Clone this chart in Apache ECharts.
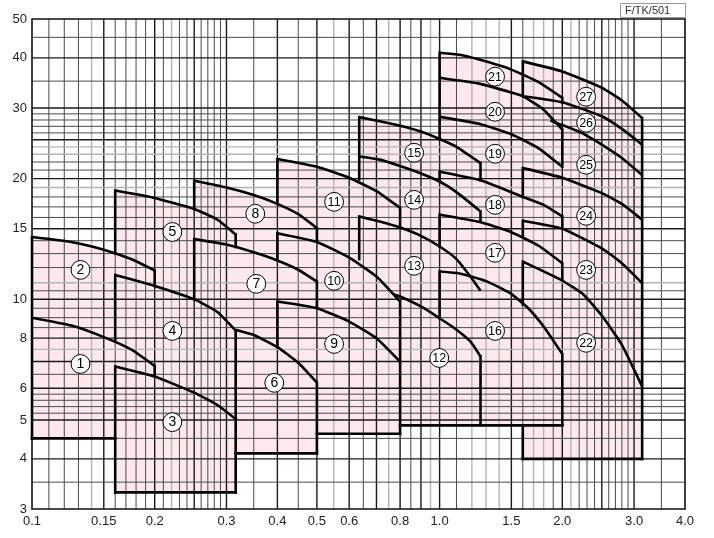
<!DOCTYPE html>
<html><head><meta charset="utf-8">
<script src="https://cdn.jsdelivr.net/npm/echarts@6/dist/echarts.min.js"></script>
<style>html,body{margin:0;padding:0;background:#fff}#c{width:714px;height:538px}</style>
</head><body><div id="c"></div>
<script>
// ---- axis tick labels ----
const xTickValues = [0.1,0.15,0.2,0.3,0.4,0.5,0.6,0.8,1.0,1.5,2.0,3.0,4.0];
const xTickText = ['0.1','0.15','0.2','0.3','0.4','0.5','0.6','0.8','1.0','1.5','2.0','3.0','4.0'];
const yTickValues = [3,4,5,6,8,10,15,20,30,40,50];
const yTickText = ['3','4','5','6','8','10','15','20','30','40','50'];

// ---- grid lines ----
const xGridMajor = [0.15,0.2,0.25,0.3,0.4,0.5,0.6,0.7,0.8,0.9,1.0,1.5,2.0,2.5,3.0];
const xGridMinor = [0.11,0.12,0.13,0.16,0.17,0.18,0.19,0.21,0.23,0.24,0.26,0.27,0.28,0.29,0.35,0.45,0.65,0.85,1.1,1.6,1.9,2.2,2.3,2.4,2.6,2.7,2.8,2.9,3.5];
const xGridLight = [0.14,0.22,0.55,0.75,0.95,1.2,1.3,1.4,1.7,1.8,2.1];
const yGridMajor = [40,30,25,20,15,10,8,7,6,5,4];
const yGridMinor = [45,35,29,28,27,26,22,21,18,17,16,14,13,12,10.5,9.5,9,8.5,6.5,5.8,5.6,5.4,5.2,4.5,3.5];
const yGridLight = [24,23,19,11,7.5];

// ---- top curves of each pump range (flow, head), visible parts ----
const r1 = [[0.1,9.0],[0.125,8.6],[0.15,8.05],[0.175,7.5],[0.2,6.82]];
const r2 = [[0.1,14.3],[0.125,13.9],[0.15,13.3],[0.175,12.6],[0.2,11.8]];
const r3 = [[0.16,6.8],[0.2,6.42],[0.25,5.85],[0.285,5.45],[0.318,5.0]];
const r4 = [[0.16,11.5],[0.2,10.8],[0.25,10.0],[0.285,9.3],[0.318,8.3]];
const r5 = [[0.16,18.67],[0.2,17.9],[0.25,16.8],[0.285,15.8],[0.316,14.5]];
const r6 = [[0.316,8.4],[0.35,8.15],[0.4,7.6],[0.45,6.95],[0.5,6.2]];
const r7 = [[0.25,14.13],[0.3,13.7],[0.35,13.1],[0.4,12.5],[0.45,11.85],[0.5,11.07]];
const r8 = [[0.25,19.75],[0.3,19.0],[0.35,18.2],[0.4,17.3],[0.45,16.3],[0.5,15.05]];
const r9 = [[0.4,9.87],[0.5,9.5],[0.6,8.8],[0.7,8.0],[0.8,6.99]];
const r10 = [[0.4,14.62],[0.5,13.9],[0.6,12.7],[0.7,11.4],[0.8,9.87]];
const r11 = [[0.4,22.37],[0.5,21.4],[0.6,20.1],[0.7,18.6],[0.8,16.9]];
const r12 = [[0.77,10.3],[0.8,10.16],[0.9,9.6],[1.0,8.97],[1.1,8.4],[1.19,7.85],[1.26,7.2]];
const r13 = [[0.635,16.09],[0.713,15.63],[0.8,15.1],[0.9,14.4],[1.0,13.54],[1.1,12.6],[1.19,11.4],[1.26,10.5]];
const r14 = [[0.635,22.7],[0.713,22.3],[0.8,21.5],[0.9,20.6],[1.0,19.67],[1.1,18.5],[1.26,16.56]];
const r15 = [[0.635,28.46],[0.713,27.8],[0.8,27.1],[0.9,26.2],[1.0,25.1],[1.1,24.0],[1.26,21.86]];
const r16 = [[1.0,11.73],[1.12,11.6],[1.3,11.1],[1.49,10.36],[1.65,9.5],[1.8,8.55],[2.0,7.3]];
const r17 = [[1.0,16.25],[1.25,15.6],[1.5,14.7],[1.75,13.6],[2.0,12.3]];
const r18 = [[1.0,20.8],[1.26,19.8],[1.58,18.1],[1.8,17.2],[2.0,16.1]];
const r19 = [[1.0,28.5],[1.25,27.4],[1.5,25.8],[1.75,23.8],[2.0,21.4]];
const r20 = [[1.0,35.7],[1.25,34.5],[1.5,32.8],[1.6,32.1],[1.8,29.7],[2.0,26.5]];
const r21 = [[1.0,41.2],[1.12,40.7],[1.25,39.6],[1.49,37.5],[1.75,34.8],[2.0,31.8]];
const r22 = [[1.6,12.42],[1.98,11.2],[2.25,10.3],[2.51,9.06],[2.8,7.7],[3.14,6.06]];
const r23 = [[1.6,15.7],[2.0,15.0],[2.5,13.4],[2.8,12.3],[3.14,10.97]];
const r24 = [[1.6,21.24],[2.0,20.1],[2.5,18.4],[2.8,17.3],[3.14,15.8]];
const r25 = [[1.87,27.9],[2.0,27.2],[2.25,25.9],[2.5,24.3],[2.8,22.5],[3.14,20.4]];
const r26 = [[1.6,32.1],[2.0,31.0],[2.5,28.6],[2.8,26.6],[3.14,24.3]];
const r27 = [[1.6,39.2],[2.0,37.0],[2.5,33.7],[2.8,31.3],[3.14,28.3]];
const topCurves = [r1,r2,r3,r4,r5,r6,r7,r8,r9,r10,r11,r12,r13,r14,r15,r16,r17,r18,r19,r20,r21,r22,r23,r24,r25,r26,r27];

// ---- pump columns: [top curve, flow min, flow max, head min] ----
const columns = [
  [r2, 0.1, 0.2, 4.5],
  [r5, 0.16, 0.316, 3.3],
  [r8, 0.25, 0.5, 4.13],
  [r11, 0.4, 0.8, 4.62],
  [r15, 0.635, 1.26, 4.85],
  [r21, 1.0, 2.0, 4.85],
  [r27, 1.6, 3.14, 4.0]
];

// ---- visible straight boundary segments ----
const edges = [
  [[0.1,4.5],[0.16,4.5]], [[0.1,4.5],[0.1,14.3]], [[0.2,11.8],[0.2,10.8]], [[0.2,6.82],[0.2,6.42]],
  [[0.16,18.67],[0.16,13.0]], [[0.16,11.5],[0.16,7.87]], [[0.16,6.8],[0.16,3.3]], [[0.16,3.3],[0.316,3.3]],
  [[0.316,14.5],[0.316,13.5]], [[0.316,8.3],[0.316,3.3]],
  [[0.25,19.75],[0.25,16.8]], [[0.25,14.13],[0.25,10.0]], [[0.5,15.05],[0.5,14.0]], [[0.5,11.07],[0.5,9.55]],
  [[0.5,6.2],[0.5,4.13]], [[0.316,4.13],[0.5,4.13]],
  [[0.4,22.37],[0.4,17.3]], [[0.4,14.62],[0.4,12.5]], [[0.4,9.87],[0.4,7.6]],
  [[0.8,16.9],[0.8,15.1]], [[0.8,9.87],[0.8,4.62]], [[0.5,4.62],[0.8,4.62]],
  [[0.635,28.46],[0.635,19.9]], [[0.635,16.09],[0.635,12.6]],
  [[1.26,21.86],[1.26,19.8]], [[1.26,16.56],[1.26,15.6]], [[1.26,7.2],[1.26,4.85]], [[0.8,4.85],[2.0,4.85]],
  [[1.0,41.2],[1.0,25.1]], [[1.0,20.8],[1.0,19.67]], [[1.0,16.25],[1.0,13.54]], [[1.0,11.73],[1.0,8.97]],
  [[2.0,7.3],[2.0,4.85]], [[2.0,31.8],[2.0,31.0]], [[2.0,26.5],[2.0,21.4]], [[2.0,16.1],[2.0,15.0]], [[2.0,12.3],[2.0,11.2]],
  [[1.6,39.2],[1.6,32.1]], [[1.6,21.24],[1.6,18.0]], [[1.6,15.7],[1.6,14.4]], [[1.6,12.42],[1.6,9.7]], [[1.6,4.85],[1.6,4.0]],
  [[3.14,28.3],[3.14,4.0]], [[1.6,4.0],[3.14,4.0]]
];

// ---- circled range numbers: [flow, head] ----
const labelPos = [
  [0.1315,6.9],[0.1315,11.84],[0.221,4.94],[0.221,8.34],[0.221,14.72],
  [0.393,6.19],[0.355,10.93],[0.353,16.34],
  [0.551,7.74],[0.551,11.12],[0.551,17.5],
  [0.998,7.14],[0.866,12.12],[0.866,17.7],[0.866,23.2],
  [1.368,8.34],[1.368,13.06],[1.368,17.2],[1.368,23.07],[1.368,29.35],[1.368,35.9],
  [2.288,7.79],[2.288,11.84],[2.288,16.15],[2.288,21.65],[2.288,27.56],[2.288,32.0]
];
const labelText = ['1','2','3','4','5','6','7','8','9','10','11','12','13','14','15','16','17','18','19','20','21','22','23','24','25','26','27'];

const PINK = '#fde8ed';
const FONT = '"Liberation Sans", Arial, sans-serif';

const gridItems = [];
xGridMajor.forEach(v => gridItems.push([v, 10, 0, 0]));
xGridMinor.forEach(v => gridItems.push([v, 10, 0, 1]));
xGridLight.forEach(v => gridItems.push([v, 10, 0, 2]));
yGridMajor.forEach(v => gridItems.push([1, v, 1, 0]));
yGridMinor.forEach(v => gridItems.push([1, v, 1, 1]));
yGridLight.forEach(v => gridItems.push([1, v, 1, 2]));
const gridStyles = [
  {stroke:'#1a1a1a', lineWidth:1.4},
  {stroke:'#4a4a4a', lineWidth:1},
  {stroke:'#b4b4b4', lineWidth:1.4}
];

const chart = echarts.init(document.getElementById('c'), null, {renderer:'canvas'});
const option = {
  animation: false,
  grid: {left: 32, right: 29, top: 19, bottom: 29, show: false},
  xAxis: {type:'log', logBase:10, min:0.1, max:4, axisLine:{show:false}, axisTick:{show:false}, axisLabel:{show:false}, splitLine:{show:false}},
  yAxis: {type:'log', logBase:10, min:3, max:50, axisLine:{show:false}, axisTick:{show:false}, axisLabel:{show:false}, splitLine:{show:false}},
  series: [
    { // fills
      type:'custom', z:1, clip:true,
      data: columns.map((c,i)=>[c[1], c[3], i]),
      renderItem: function(params, api){
        const c = columns[params.dataIndex];
        const pts = [[c[1], c[3]], [c[1], c[0][0][1]]].concat(c[0]).concat([[c[2], c[0][c[0].length-1][1]], [c[2], c[3]]]);
        return {type:'polygon', shape:{points: pts.map(p=>api.coord(p)), smooth:0}, style:{fill:PINK, stroke:null}};
      }
    },
    { // grid lines
      type:'custom', z:2, clip:false,
      data: gridItems,
      renderItem: function(params, api){
        const it = gridItems[params.dataIndex];
        let a, b;
        if (it[2] === 0) { a = api.coord([it[0], 3]); b = api.coord([it[0], 50]); }
        else { a = api.coord([0.1, it[1]]); b = api.coord([4, it[1]]); }
        return {type:'line', shape:{x1:a[0], y1:a[1], x2:b[0], y2:b[1]}, style:gridStyles[it[3]]};
      }
    },
    { // border
      type:'custom', z:3, clip:false,
      data: [[1,10]],
      renderItem: function(params, api){
        const a = api.coord([0.1, 50]), b = api.coord([4, 3]);
        return {type:'rect', shape:{x:a[0], y:a[1], width:b[0]-a[0], height:b[1]-a[1]}, style:{fill:null, stroke:'#111', lineWidth:1.6}};
      }
    },
    { // top curves
      type:'custom', z:4, clip:false,
      data: topCurves.map((c,i)=>[c[0][0], c[0][1], i]),
      renderItem: function(params, api){
        const c = topCurves[params.dataIndex];
        return {type:'polyline', shape:{points: c.map(p=>api.coord(p)), smooth:0.15}, style:{fill:null, stroke:'#000', lineWidth:2.6, lineJoin:'round'}};
      }
    },
    { // straight boundaries
      type:'custom', z:4, clip:false,
      data: edges.map((e,i)=>[e[0][0], e[0][1], i]),
      renderItem: function(params, api){
        const e = edges[params.dataIndex];
        return {type:'polyline', shape:{points: e.map(p=>api.coord(p))}, style:{fill:null, stroke:'#000', lineWidth:2.6, lineCap:'square'}};
      }
    },
    { // circled numbers
      type:'custom', z:5, clip:false,
      data: labelPos.map((p,i)=>[p[0], p[1], i]),
      renderItem: function(params, api){
        const p = api.coord(labelPos[params.dataIndex]);
        const t = labelText[params.dataIndex];
        return {type:'group', children:[
          {type:'circle', shape:{cx:p[0], cy:p[1], r:9.4}, style:{fill:'#fff', stroke:'#000', lineWidth:1}},
          {type:'text', style:{x:p[0], y:p[1]+0.5, text:t, fill:'#000', font: (t.length>1?'12.5px ':'14px ') + FONT, align:'center', verticalAlign:'middle'}}
        ]};
      }
    },
    { // x tick labels
      type:'custom', z:5, clip:false,
      data: xTickValues.map((v,i)=>[v, 3, i]),
      renderItem: function(params, api){
        const p = api.coord([xTickValues[params.dataIndex], 3]);
        return {type:'text', style:{x:p[0], y:p[1]+12, text:xTickText[params.dataIndex], fill:'#222', font:'13px '+FONT, align:'center', verticalAlign:'middle'}};
      }
    },
    { // y tick labels
      type:'custom', z:5, clip:false,
      data: yTickValues.map((v,i)=>[0.1, v, i]),
      renderItem: function(params, api){
        const p = api.coord([0.1, yTickValues[params.dataIndex]]);
        return {type:'text', style:{x:p[0]-5, y:p[1], text:yTickText[params.dataIndex], fill:'#222', font:'13px '+FONT, align:'right', verticalAlign:'middle'}};
      }
    }
  ],
  graphic: [
    {type:'rect', left:620, top:3, shape:{width:65, height:14}, style:{fill:'#fff', stroke:'#999', lineWidth:1}},
    {type:'text', left:625, top:5, style:{text:'F/TK/501', fill:'#333', font:'11px '+FONT}}
  ]
};
chart.setOption(option);
</script></body></html>
